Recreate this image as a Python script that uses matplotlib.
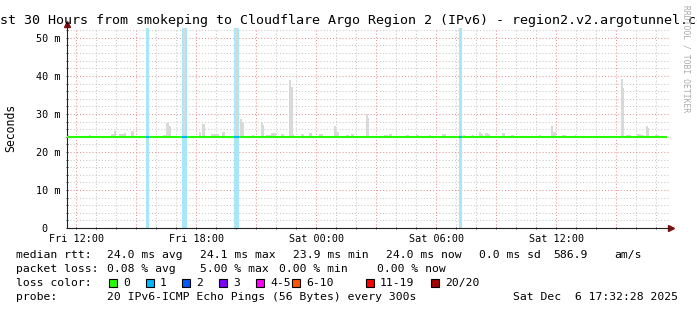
import matplotlib
matplotlib.use("Agg")
import matplotlib.pyplot as plt
from matplotlib.ticker import MultipleLocator, FuncFormatter

# hours are counted from Fri 00:00
median_ms = 24.0
window_start, window_end = 11.54, 41.54  # Fri 11:32 .. Sat 17:32

# smoke (spread of the 20 pings above the median)
smoke_start = [11.54, 12.64, 13.74, 13.87, 14.14, 14.39, 14.74, 16.34, 16.49, 16.62,
               17.34, 18.12, 18.29, 18.74, 18.99, 19.29, 19.95, 20.20, 20.29, 20.79,
               21.24, 21.33, 21.49, 21.74, 22.24, 22.64, 22.74, 22.83, 23.24, 23.62,
               24.15, 24.87, 24.99, 25.49, 25.74, 26.49, 26.57, 27.40, 27.62, 28.49,
               28.99, 29.62, 30.29, 31.32, 31.79, 32.12, 32.25, 32.45, 32.59, 33.29,
               33.74, 35.12, 35.74, 35.83, 36.29, 36.94, 39.24, 39.33, 39.49, 40.04,
               40.24, 40.49, 40.58, 40.95]
smoke_width = [0.10, 0.08, 0.13, 0.12, 0.25, 0.10, 0.15, 0.15, 0.13, 0.12,
               0.10, 0.13, 0.17, 0.25, 0.15, 0.17, 0.08, 0.09, 0.10, 0.10,
               0.09, 0.08, 0.25, 0.25, 0.15, 0.10, 0.09, 0.07, 0.15, 0.17,
               0.17, 0.12, 0.14, 0.17, 0.17, 0.08, 0.07, 0.17, 0.17, 0.14,
               0.14, 0.12, 0.20, 0.13, 0.12, 0.13, 0.07, 0.14, 0.10, 0.17,
               0.17, 0.12, 0.09, 0.17, 0.20, 0.05, 0.09, 0.07, 0.25, 0.20,
               0.14, 0.09, 0.08, 0.17]
smoke_top = [24.5, 24.4, 24.8, 25.4, 24.6, 24.9, 25.4, 24.5, 27.7, 26.8,
             55.0, 25.3, 27.4, 24.8, 24.8, 25.3, 55.0, 28.6, 27.9, 24.5,
             27.7, 27.1, 24.5, 24.9, 24.8, 38.9, 37.2, 24.8, 24.8, 25.1,
             24.7, 26.7, 25.3, 24.5, 24.8, 29.9, 28.8, 24.4, 24.8, 24.5,
             24.5, 24.5, 24.8, 24.5, 24.5, 25.3, 24.8, 25.0, 24.7, 25.1,
             24.5, 24.5, 26.7, 25.3, 24.5, 24.4, 39.1, 36.8, 24.5, 24.8,
             24.5, 26.7, 26.3, 24.5]

# periods with 1/20 pings lost
loss_start = [15.49, 17.29, 19.89, 31.14]
loss_width = [0.165, 0.235, 0.235, 0.15]

xtick_hours = [12, 18, 24, 30, 36]
xtick_labels = ["Fri 12:00", "Fri 18:00", "Sat 00:00", "Sat 06:00", "Sat 12:00"]

loss_labels = ["0", "1", "2", "3", "4-5", "6-10", "11-19", "20/20"]
loss_colors = ["#26ff00", "#00b8ff", "#0059ff", "#7e00ff", "#ff00ff", "#ff5500", "#ff0000", "#a10000"]

rtt_stats = ["24.0 ms avg", "24.1 ms max", "23.9 ms min", "24.0 ms now", "0.0 ms sd", "586.9", "am/s"]
loss_stats = ["0.08 % avg", "5.00 % max", "0.00 % min", "0.00 % now"]
probe_text = "20 IPv6-ICMP Echo Pings (56 Bytes) every 300s"
stamp_text = "Sat Dec  6 17:32:28 2025"
title_text = "Last 30 Hours from smokeping to Cloudflare Argo Region 2 (IPv6) - region2.v2.argotunnel.com"

W, H = 697, 310
plt.rcParams["font.family"] = "DejaVu Sans Mono"
fig = plt.figure(figsize=(W / 100, H / 100), dpi=100)
ax = fig.add_axes([67 / W, 82 / H, 602 / W, 200 / H])
ymax = 52.6
ax.set_xlim(window_start, window_start + 602 / 20)
ax.set_ylim(0, ymax)


def px(x, y):
    return x / W, 1 - y / H


# grid
ax.xaxis.set_major_locator(MultipleLocator(3))
ax.xaxis.set_minor_locator(MultipleLocator(1))
ax.yaxis.set_major_locator(MultipleLocator(10))
ax.yaxis.set_minor_locator(MultipleLocator(2))
ax.grid(which="major", color="#e49494", lw=0.75, ls=(0, (1, 2)), zorder=0)
ax.grid(which="minor", color="#c8c8c8", lw=0.75, ls=(0, (1, 2)), zorder=0)
ax.set_axisbelow(True)

# loss background
ax.bar(loss_start, [ymax] * len(loss_start), loss_width, bottom=0, align="edge",
       color="#aae6fa", lw=0, zorder=1)
# smoke
ax.bar(smoke_start, [t - median_ms for t in smoke_top], smoke_width, bottom=median_ms,
       align="edge", color="#d9d9d9", lw=0, zorder=2)
# median line, coloured by loss
ax.hlines(median_ms, window_start, window_end, color=loss_colors[0], lw=1.5, zorder=3)
for s, w in zip(loss_start, loss_width):
    ax.hlines(median_ms, s, s + w, color=loss_colors[1], lw=1.5, zorder=4)

# axes
for side in ["top", "right"]:
    ax.spines[side].set_visible(False)
for side in ["left", "bottom"]:
    ax.spines[side].set_color("#222222")
    ax.spines[side].set_linewidth(0.8)
ax.spines["left"].set_bounds(0, ymax * 1.02)
ax.plot([1.003], [0], marker=">", color="#7f1010", ms=4, transform=ax.transAxes, clip_on=False)
ax.plot([0], [1.02], marker="^", color="#7f1010", ms=4, transform=ax.transAxes, clip_on=False)

ax.xaxis.set_major_formatter(FuncFormatter(
    lambda v, p: xtick_labels[xtick_hours.index(round(v))] if round(v) in xtick_hours else ""))
ax.yaxis.set_major_formatter(FuncFormatter(lambda v, p: f"{v:.0f} m" if v else "0  "))
ax.tick_params(which="both", length=2, direction="inout", color="#222222", width=0.6)
ax.tick_params(axis="x", labelsize=7.3, pad=3)
ax.tick_params(axis="y", labelsize=7.3, pad=4)

# texts
fig.text(*px(-16, 24), title_text, fontsize=9.6, ha="left", va="baseline")
fig.text(*px(10.5, 127.5), "Seconds", fontsize=8.3, rotation=90, ha="center", va="center")
fig.text(*px(686, 59), "RRDTOOL / TOBI OETIKER", fontsize=5.8, color="#aaaaaa",
         rotation=270, ha="center", va="center")

fs = 8.2
row1, row2, row3, row4 = 258.3, 272.3, 286.3, 300
fig.text(*px(16, row1), "median rtt:", fontsize=fs, va="baseline")
for x, s in zip([107.3, 200, 293.3, 386, 479.3, 553.3, 614], rtt_stats):
    fig.text(*px(x, row1), s, fontsize=fs, va="baseline")
fig.text(*px(16, row2), "packet loss:", fontsize=fs, va="baseline")
for x, s in zip([107.3, 200, 279.3, 376.7], loss_stats):
    fig.text(*px(x, row2), s, fontsize=fs, va="baseline")
fig.text(*px(16, row3), "loss color:", fontsize=fs, va="baseline")
box_x = [109, 145.7, 182.3, 219, 255.7, 292.3, 365.7, 430.7]
for x, lab, col in zip(box_x, loss_labels, loss_colors):
    fig.patches.append(plt.Rectangle(px(x, 286.5), 8 / W, 8 / H, transform=fig.transFigure,
                                     facecolor=col, edgecolor="black", lw=0.8))
    fig.text(*px(x + 14.3, row3), lab, fontsize=fs, va="baseline")
fig.text(*px(16, row4), "probe:", fontsize=fs, va="baseline")
fig.text(*px(107.3, row4), probe_text, fontsize=fs, va="baseline")
fig.text(*px(513.3, row4), stamp_text, fontsize=fs, va="baseline")

fig.savefig("out.png", dpi=100)
